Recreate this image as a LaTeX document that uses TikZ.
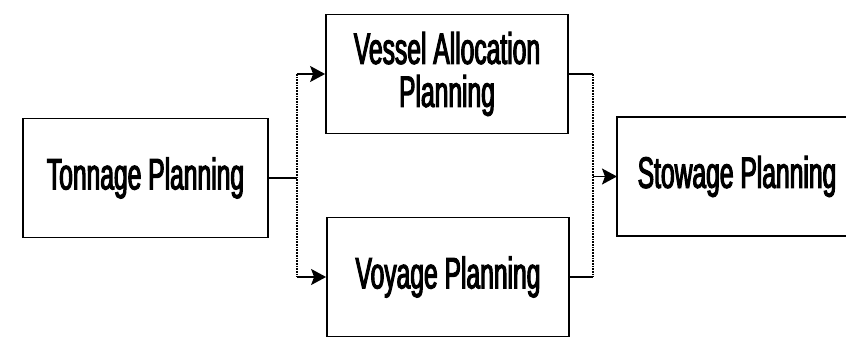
\documentclass[tikz,border=0pt]{standalone}
\usepackage{fontspec}
\setmainfont{Liberation Sans}[FakeStretch=0.56,FakeBold=2.5]
\usetikzlibrary{arrows.meta}
\begin{document}
\begin{tikzpicture}[x=1pt,y=1pt,
  box/.style={draw=black,line width=1.8pt,minimum height=119pt,inner sep=0pt,
    align=center,font=\fontsize{44}{43}\selectfont},
  txt/.style={inner sep=0pt,align=center,font=\fontsize{44}{43}\selectfont},
  link/.style={draw=black,line width=1.6pt},
  dots/.style={draw=black,line width=1.7pt,densely dotted},
  arr/.style={link,-{Stealth[length=15pt,width=16pt,inset=3pt]}}]
\useasboundingbox (0,0) rectangle (846,345);
\node[box,minimum width=245pt] (ton) at (145.5,167) {Tonnage Planning};
\node[box,minimum width=242pt] (ves) at (447,271) {Vessel Allocation\\Planning};
\node[box,minimum width=242pt] (voy) at (448,68) {Voyage Planning};
\node[txt] (sto) at (737,168.5) {Stowage Planning};
\coordinate (stow) at (617,168.5);
\draw[line width=1.8pt] (846,228) -- (617,228) -- (617,109) -- (846,109);
\coordinate (sl) at (297,167);
\coordinate (slt) at (sl |- ves.west);
\coordinate (slb) at (sl |- voy.west);
\coordinate (sr) at (593,168.5);
\coordinate (srt) at (sr |- ves.east);
\coordinate (srb) at (sr |- voy.east);
\draw[link] (ton.east) -- (sl);
\draw[dots] (slt) -- (slb);
\draw[arr] (slt) -- (ves.west);
\draw[arr] (slb) -- (voy.west);
\draw[link] (ves.east) -- (srt);
\draw[link] (voy.east) -- (srb);
\draw[dots] (srt) -- (srb);
\draw[arr] (sr) -- (stow);
\end{tikzpicture}
\end{document}
